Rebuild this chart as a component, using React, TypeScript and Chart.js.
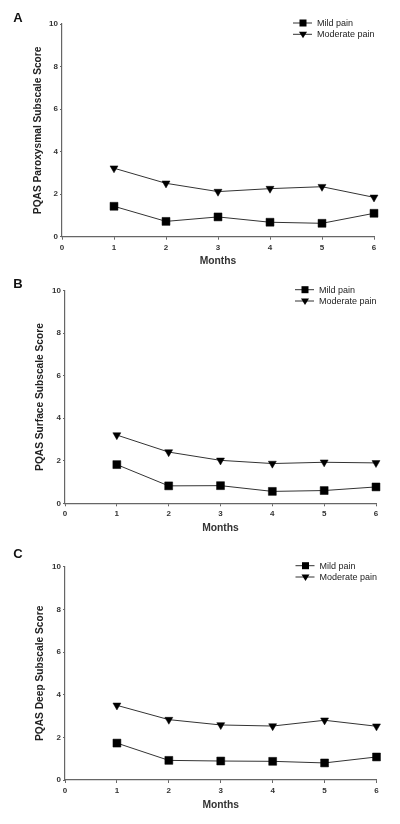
import React, { useEffect, useRef } from "react";
import { Chart, registerables } from "chart.js";

Chart.register(...registerables);

const months = [1, 2, 3, 4, 5, 6];
const xTicks = [0, 1, 2, 3, 4, 5, 6];
const yTicks = [0, 2, 4, 6, 8, 10];
const seriesNames = ["Mild pain", "Moderate pain"];

const paroxysmalMild = [1.43, 0.72, 0.93, 0.68, 0.63, 1.1];
const paroxysmalModerate = [3.22, 2.51, 2.12, 2.26, 2.35, 1.85];
const surfaceMild = [1.82, 0.82, 0.83, 0.56, 0.6, 0.77];
const surfaceModerate = [3.21, 2.41, 2.02, 1.87, 1.93, 1.9];
const deepMild = [1.73, 0.92, 0.89, 0.875, 0.8, 1.08];
const deepModerate = [3.5, 2.83, 2.58, 2.53, 2.8, 2.52];

const panelLetters = ["A", "B", "C"];
const yTitles = [
  "PQAS Paroxysmal Subscale Score",
  "PQAS Surface Subscale Score",
  "PQAS Deep Subscale Score",
];
const xTitle = "Months";

type PanelCfg = {
  top: number;
  height: number;
  padTop: number;
  padLeft: number;
  padRight: number;
  padBottom: number;
  yWidth: number;
  letterY: number;
};

const panels: PanelCfg[] = [
  { top: 0, height: 270, padTop: 24, padLeft: 26, padRight: 26, padBottom: 0.3, yWidth: 36, letterY: 18 },
  { top: 270, height: 275, padTop: 20.7, padLeft: 28, padRight: 24, padBottom: 8.7, yWidth: 37, letterY: 14 },
  { top: 545, height: 279, padTop: 21.7, padLeft: 28, padRight: 23.5, padBottom: 11, yWidth: 37, letterY: 9.5 },
];

const FONT = "Arial, 'Liberation Sans', sans-serif";

function makeDecorPlugin(letter: string, letterY: number) {
  return {
    id: "decor",
    afterDraw(chart: any) {
      const { ctx, chartArea } = chart;
      ctx.save();
      ctx.fillStyle = "#111";
      ctx.font = `bold 13px ${FONT}`;
      ctx.textAlign = "center";
      ctx.textBaseline = "middle";
      ctx.fillText(letter, 18, letterY);
      const right = chartArea.right;
      const rows = [chartArea.top - 1, chartArea.top + 10.3];
      ctx.font = `9px ${FONT}`;
      ctx.textAlign = "left";
      seriesNames.forEach((name, i) => {
        const y = rows[i];
        ctx.strokeStyle = "#333";
        ctx.lineWidth = 1;
        ctx.beginPath();
        ctx.moveTo(right - 81, y);
        ctx.lineTo(right - 62, y);
        ctx.stroke();
        ctx.fillStyle = "#000";
        const cx = right - 71;
        if (i === 0) {
          ctx.fillRect(cx - 3.5, y - 3.5, 7, 7);
        } else {
          ctx.beginPath();
          ctx.moveTo(cx - 4, y - 2.5);
          ctx.lineTo(cx + 4, y - 2.5);
          ctx.lineTo(cx, y + 4);
          ctx.closePath();
          ctx.fill();
        }
        ctx.fillStyle = "#222";
        ctx.fillText(name, right - 57, y + 0.5);
      });
      ctx.restore();
    },
  };
}

function Panel({ idx, mild, moderate }: { idx: number; mild: number[]; moderate: number[] }) {
  const ref = useRef<HTMLCanvasElement>(null);
  const p = panels[idx];
  useEffect(() => {
    if (!ref.current) return;
    const chart = new Chart(ref.current, {
      type: "line",
      data: {
        datasets: [
          {
            label: seriesNames[0],
            data: months.map((m, i) => ({ x: m, y: mild[i] })),
            borderColor: "#333",
            borderWidth: 1,
            pointStyle: "rect",
            pointRadius: 5.6,
            pointBackgroundColor: "#000",
            pointBorderColor: "#000",
            pointBorderWidth: 0.5,
            tension: 0,
            clip: false,
          },
          {
            label: seriesNames[1],
            data: months.map((m, i) => ({ x: m, y: moderate[i] })),
            borderColor: "#333",
            borderWidth: 1,
            pointStyle: "triangle",
            pointRotation: 180,
            pointRadius: 4.6,
            pointBackgroundColor: "#000",
            pointBorderColor: "#000",
            pointBorderWidth: 0.5,
            tension: 0,
            clip: false,
          },
        ],
      },
      options: {
        animation: false,
        responsive: false,
        maintainAspectRatio: false,
        layout: {
          padding: { top: p.padTop, left: p.padLeft, right: p.padRight, bottom: p.padBottom },
        },
        plugins: { legend: { display: false }, tooltip: { enabled: false } },
        scales: {
          x: {
            type: "linear",
            min: 0,
            max: 6,
            afterBuildTicks: (s: any) => {
              s.ticks = xTicks.map((v) => ({ value: v }));
            },
            afterFit: (s: any) => {
              s.height = 33;
            },
            ticks: {
              color: "#333",
              font: { family: FONT, size: 8, weight: "bold" },
              padding: 3,
              maxRotation: 0,
            },
            grid: { display: true, drawOnChartArea: false, tickLength: 3, tickColor: "#666" },
            border: { display: true, color: "#666", width: 1.2 },
            title: {
              display: true,
              text: xTitle,
              color: "#333",
              font: { family: FONT, size: 10.3, weight: "bold" },
              padding: { top: 0, bottom: 2 },
            },
          },
          y: {
            type: "linear",
            min: 0,
            max: 10,
            afterBuildTicks: (s: any) => {
              s.ticks = yTicks.map((v) => ({ value: v }));
            },
            afterFit: (s: any) => {
              s.width = p.yWidth;
            },
            ticks: {
              color: "#333",
              font: { family: FONT, size: 8, weight: "bold" },
              padding: 2,
            },
            grid: { display: true, drawOnChartArea: false, tickLength: 2, tickColor: "#666" },
            border: { display: true, color: "#666", width: 1.2 },
            title: {
              display: true,
              text: yTitles[idx],
              color: "#222",
              font: { family: FONT, size: 10.2, weight: "bold" },
              padding: { top: 6, bottom: 0 },
            },
          },
        },
      },
      plugins: [makeDecorPlugin(panelLetters[idx], p.letterY)],
    } as any);
    return () => chart.destroy();
  }, []);
  return (
    <canvas
      ref={ref}
      width={400}
      height={p.height}
      style={{ position: "absolute", left: 0, top: p.top, width: 400, height: p.height }}
    />
  );
}

export default function App() {
  return (
    <div style={{ position: "absolute", left: 0, top: 0, width: 400, height: 824, background: "#fff" }}>
      <Panel idx={0} mild={paroxysmalMild} moderate={paroxysmalModerate} />
      <Panel idx={1} mild={surfaceMild} moderate={surfaceModerate} />
      <Panel idx={2} mild={deepMild} moderate={deepModerate} />
    </div>
  );
}
